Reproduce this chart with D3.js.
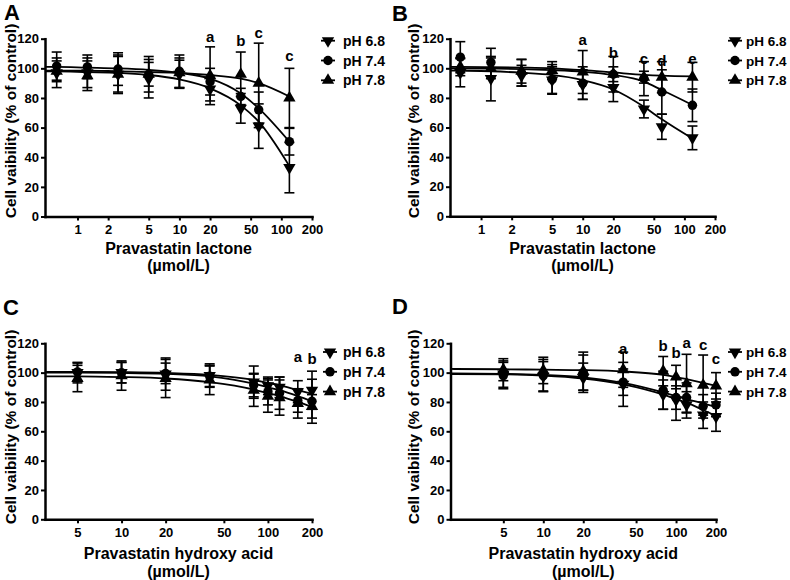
<!DOCTYPE html>
<html><head><meta charset="utf-8">
<script src="https://cdn.jsdelivr.net/npm/d3@7"></script>
<style>
body{margin:0;background:#fff}
svg{display:block;font-family:"Liberation Sans",Arial,sans-serif;font-weight:bold}
</style>
</head><body><svg id="chart" width="790" height="580"></svg>
<script>
// ---------- DATA ----------
const seriesNames = ["pH 6.8", "pH 7.4", "pH 7.8"];
const yTicks = [0, 20, 40, 60, 80, 100, 120];
const xTicksLactone = [1, 2, 5, 10, 20, 50, 100, 200];
const xTicksAcid = [5, 10, 20, 50, 100, 200];

// Panel A: pravastatin lactone
const concA = [0.625, 1.25, 2.5, 5, 10, 20, 40, 60, 120];
const A_ph68 = [97, 97, 96, 93, 96, 86, 73, 61, 33];
const A_ph68_err = [10, 10, 13, 13, 9.5, 8, 10, 15, 17];
const A_ph74 = [101.5, 101, 99.5, 96, 98, 91, 81, 72, 50.5];
const A_ph74_err = [9.5, 8, 11, 12, 11, 9, 5.5, 12, 9];
const A_ph78 = [98, 95, 96, 96, 97, 95, 96, 90, 80];
const A_ph78_err = [7, 10, 12, 8, 10, 19.5, 15, 27, 20];
const fitConcA = [0.48, 0.625, 1.25, 2.5, 5, 10, 20, 40, 60, 120];
const A_fit68 = [98, 98, 97.5, 97, 95.5, 92.5, 86.5, 75, 64, 34];
const A_fit74 = [101, 101, 100.5, 100, 99, 97, 93, 83, 73, 50.5];
const A_fit78 = [98.5, 98.5, 98.5, 98, 97.5, 97, 95.5, 93, 90, 81];
const lettersA = [[20, "a", 118], [40, "b", 114.8], [60, "c", 120.8], [120, "c", 105]];

// Panel B: pravastatin lactone
const concB = [0.625, 1.25, 2.5, 5, 10, 20, 40, 60, 120];
const B_ph68 = [97, 93, 95, 92, 89, 87, 72.5, 60.5, 53];
const B_ph68_err = [9.5, 15, 7, 9, 10, 9.5, 6, 8.5, 8];
const B_ph74 = [107.5, 104, 97, 92.5, 90, 96, 93, 84, 75];
const B_ph74_err = [10.5, 9.5, 9, 10, 11, 12, 11.5, 15, 11];
const B_ph78 = [101, 100, 98, 98.5, 97.5, 96, 94, 94, 94];
const B_ph78_err = [6, 7, 8, 6, 14.5, 5, 4, 10.5, 10];
const fitConcB = [0.495, 0.625, 1.25, 2.5, 5, 10, 20, 40, 60, 120];
const B_fit68 = [98.5, 98.4, 98, 97, 95.5, 92, 85.7, 74, 65.5, 52.5];
const B_fit74 = [100, 100, 99.8, 99.5, 98.8, 97.7, 95.5, 91, 85.3, 75.2];
const B_fit78 = [101, 101, 100.8, 100.5, 100, 98.8, 97.2, 95.6, 95, 94.5];
const lettersB = [[10, "a", 115.7], [20, "b", 107], [40, "c", 102.6], [60, "d", 101.8], [120, "e", 102.6]];

// Panel C: pravastatin hydroxy acid
const concC = [5, 10, 20, 40, 80, 100, 120, 160, 200];
const C_ph68 = [100, 100, 99, 98, 93.5, 91, 90, 87, 88];
const C_ph68_err = [7, 7, 11, 8, 11, 6, 7, 7.5, 13];
const C_ph74 = [100.5, 100, 99.5, 97.5, 91.5, 87, 86, 81, 80.5];
const C_ph74_err = [6, 7, 7, 7, 8, 9, 11, 8, 15];
const C_ph78 = [96, 98, 96, 95, 88, 84, 83, 79, 77];
const C_ph78_err = [9, 10, 13, 10, 11, 11, 12, 10, 8];
const fitConcC = [3, 5, 10, 20, 40, 80, 100, 120, 160, 200];
const C_fit68 = [100.5, 100.5, 100.3, 99.8, 98.5, 95, 93, 91.5, 88, 85.5];
const C_fit74 = [100, 100, 99.8, 99.2, 97.5, 92.5, 90, 88, 84, 80.5];
const C_fit78 = [97.5, 97.5, 97, 96, 93.5, 88.5, 86, 84, 80, 76.5];
const lettersC = [[160, "a", 107.5], [200, "b", 106]];

// Panel D: pravastatin hydroxy acid
const concD = [5, 10, 20, 40, 80, 100, 120, 160, 200];
const D_ph68 = [99, 97.5, 96.5, 92, 85, 81.5, 78, 71, 70];
const D_ph68_err = [9, 10, 10, 15, 10, 14, 9, 9, 10];
const D_ph74 = [98, 98, 100, 93.5, 88, 83, 83, 77, 78];
const D_ph74_err = [9, 11, 12, 9, 13, 8, 10, 8, 8];
const D_ph78 = [102, 101.5, 101, 102, 101, 97, 92.5, 91.5, 91];
const D_ph78_err = [7.5, 9, 13, 12, 10, 8, 20, 20.5, 9];
const fitConcD = [2, 5, 10, 20, 40, 80, 100, 120, 160, 200];
const D_fit68 = [99, 98.8, 98, 96, 92, 85, 82, 79.5, 74.5, 70.5];
const D_fit74 = [99.5, 99.2, 98.4, 96.8, 93, 86.5, 84, 82, 79, 76.5];
const D_fit78 = [102.5, 102.3, 102, 101.7, 100.8, 98.5, 97, 95.5, 93, 91];
const lettersD = [[40, "a", 112.6], [80, "b", 114.5], [100, "b", 110], [120, "a", 116.5], [160, "c", 115.4], [200, "c", 106]];

// ---------- LAYOUT ----------
const panels = [
  {letter: "A", lx: 4, ly: 20, xDomain: [0.48, 200], xRange: [45, 312], yRange: [216.5, 38.7],
   xTicks: xTicksLactone, conc: concA, means: [A_ph68, A_ph74, A_ph78], errs: [A_ph68_err, A_ph74_err, A_ph78_err],
   fitConc: fitConcA, fits: [A_fit68, A_fit74, A_fit78], letters: lettersA,
   xTitle: "Pravastatin lactone", t1: 253.5, t2: 271, yTitleX: 16, yTitleY: 121,
   legX: 328, legTX: 343, legY: 40.7, legFont: 14},
  {letter: "B", lx: 392, ly: 21, xDomain: [0.495, 200], xRange: [450, 715], yRange: [216.3, 38.7],
   xTicks: xTicksLactone, conc: concB, means: [B_ph68, B_ph74, B_ph78], errs: [B_ph68_err, B_ph74_err, B_ph78_err],
   fitConc: fitConcB, fits: [B_fit68, B_fit74, B_fit78], letters: lettersB,
   xTitle: "Pravastatin lactone", t1: 253.5, t2: 271, yTitleX: 419, yTitleY: 121,
   legX: 735, legTX: 746, legY: 40.7, legFont: 13.5},
  {letter: "C", lx: 3, ly: 315, xDomain: [3, 200], xRange: [45, 312], yRange: [519.3, 343.3],
   xTicks: xTicksAcid, conc: concC, means: [C_ph68, C_ph74, C_ph78], errs: [C_ph68_err, C_ph74_err, C_ph78_err],
   fitConc: fitConcC, fits: [C_fit68, C_fit74, C_fit78], letters: lettersC,
   xTitle: "Pravastatin hydroxy acid", t1: 558.5, t2: 577, yTitleX: 16, yTitleY: 427,
   legX: 330, legTX: 343, legY: 352, legFont: 14},
  {letter: "D", lx: 392, ly: 314, xDomain: [2, 200], xRange: [450.5, 716], yRange: [519.3, 343.3],
   xTicks: xTicksAcid, conc: concD, means: [D_ph68, D_ph74, D_ph78], errs: [D_ph68_err, D_ph74_err, D_ph78_err],
   fitConc: fitConcD, fits: [D_fit68, D_fit74, D_fit78], letters: lettersD,
   xTitle: "Pravastatin hydroxy acid", t1: 558.5, t2: 577, yTitleX: 419, yTitleY: 427,
   legX: 735, legTX: 746, legY: 352, legFont: 13.5}
];

const svg = d3.select("#chart");
const symbols = [
  {type: d3.symbolTriangle, rot: 180, size: 66},
  {type: d3.symbolCircle, rot: 0, size: 70},
  {type: d3.symbolTriangle, rot: 0, size: 66}
];

function symPath(i) {
  return d3.symbol().type(symbols[i].type).size(symbols[i].size)();
}

function drawPanel(p) {
  const g = svg.append("g");
  const x = d3.scaleLog().domain(p.xDomain).range(p.xRange);
  const y = d3.scaleLinear().domain([0, 120]).range(p.yRange);

  // axes
  const ya = g.append("g").attr("transform", `translate(${p.xRange[0]},0)`)
    .call(d3.axisLeft(y).tickValues(yTicks).tickSize(4).tickPadding(2).tickSizeOuter(0));
  const xa = g.append("g").attr("transform", `translate(0,${p.yRange[0]})`)
    .call(d3.axisBottom(x).tickValues(p.xTicks).tickFormat(d3.format("d")).tickSize(4).tickPadding(4.5).tickSizeOuter(0));
  [ya, xa].forEach(a => {
    a.select(".domain").attr("stroke", "#000").attr("stroke-width", 2.5).attr("stroke-linecap", "square");
    a.selectAll(".tick line").attr("stroke", "#000").attr("stroke-width", 2);
    a.selectAll(".tick text").attr("fill", "#000").style("font-size", "13px").style("font-weight", "bold")
      .style("font-family", '"Liberation Sans",Arial,sans-serif');
  });

  // fitted curves
  const line = d3.line().x(d => x(d[0])).y(d => y(d[1])).curve(d3.curveMonotoneX);
  p.fits.forEach(f => {
    g.append("path").datum(p.fitConc.map((c, i) => [c, f[i]]))
      .attr("d", line).attr("fill", "none").attr("stroke", "#000").attr("stroke-width", 1.8);
  });

  // error bars
  const cap = 5;
  p.means.forEach((m, s) => {
    const eg = g.append("g").attr("stroke", "#000").attr("stroke-width", 1.6);
    m.forEach((v, i) => {
      const cx = x(p.conc[i]);
      const lo = y(v - p.errs[s][i]), hi = y(v + p.errs[s][i]);
      eg.append("line").attr("x1", cx).attr("x2", cx).attr("y1", lo).attr("y2", hi);
      eg.append("line").attr("x1", cx - cap).attr("x2", cx + cap).attr("y1", lo).attr("y2", lo);
      eg.append("line").attr("x1", cx - cap).attr("x2", cx + cap).attr("y1", hi).attr("y2", hi);
    });
  });

  // markers
  p.means.forEach((m, s) => {
    g.append("g").selectAll("path").data(m).join("path")
      .attr("d", symPath(s))
      .attr("transform", (v, i) => `translate(${x(p.conc[i])},${y(v)}) rotate(${symbols[s].rot})`)
      .attr("fill", "#000");
  });

  // significance letters
  g.append("g").selectAll("text").data(p.letters).join("text")
    .attr("x", d => x(d[0])).attr("y", d => y(d[2]))
    .attr("text-anchor", "middle").style("font-size", "15px").text(d => d[1]);

  // legend
  seriesNames.forEach((name, s) => {
    const cy = p.legY + s * 19.8;
    g.append("line").attr("x1", p.legX - 7).attr("x2", p.legX + 7).attr("y1", cy).attr("y2", cy)
      .attr("stroke", "#000").attr("stroke-width", 1.8);
    g.append("path").attr("d", symPath(s))
      .attr("transform", `translate(${p.legX},${cy}) rotate(${symbols[s].rot})`).attr("fill", "#000");
    g.append("text").attr("x", p.legTX).attr("y", cy + 5).style("font-size", p.legFont + "px").text(name);
  });

  // titles
  const xc = (p.xRange[0] + p.xRange[1]) / 2;
  g.append("text").attr("x", xc).attr("y", p.t1).attr("text-anchor", "middle").style("font-size", "16px").text(p.xTitle);
  g.append("text").attr("x", xc).attr("y", p.t2).attr("text-anchor", "middle").style("font-size", "16px").text("(µmol/L)");
  g.append("text").attr("transform", `translate(${p.yTitleX},${p.yTitleY}) rotate(-90)`)
    .attr("text-anchor", "middle").style("font-size", "15.5px").text("Cell vaibility (% of control)");

  // panel letter
  g.append("text").attr("x", p.lx).attr("y", p.ly).style("font-size", "22px").text(p.letter);
}

panels.forEach(drawPanel);
</script></body></html>
